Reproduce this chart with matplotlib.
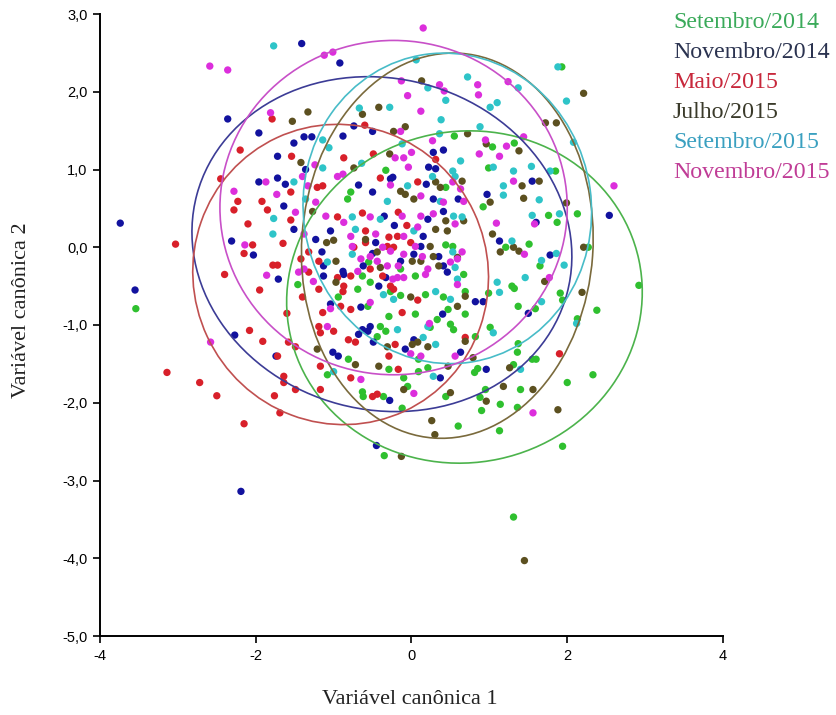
import matplotlib
matplotlib.use("Agg")
import matplotlib.pyplot as plt
from matplotlib.patches import Ellipse
import numpy as np

# ---------------- data ----------------
groups = ["Setembro/2014", "Novembro/2014", "Maio/2015", "Julho/2015", "Setembro/2015", "Novembro/2015"]

set14 = [(2.92,-0.49),(1.93,2.32),(1.31,-3.47),(1.94,-2.56),(2.33,-1.64),(2.0,-1.74),(1.36,-2.06),(1.13,-2.36),
         (-0.35,-2.68),(-0.12,-2.07),(-3.54,-0.79),(1.04,1.29),(1.32,1.34),(1.85,0.98),(0.99,1.02),(0.92,0.52),
         (0.55,1.43),(-0.33,0.99),(2.38,-0.81),(2.13,-0.92),(0.95,-1.83),(0.85,-1.56),(0.81,-1.61),(1.55,-1.44),
         (1.6,-1.44),(1.31,-1.51),(1.36,-1.35),(1.37,-1.24),(1.01,-1.03),(0.82,-1.15),(1.59,-0.79),(1.37,-0.76),
         (1.91,-0.59),(1.94,-0.68),(1.29,-0.5),(1.32,-0.53),(0.99,-0.59),(1.65,-0.24),(1.51,0.04),(2.27,0.0),
         (1.21,0.0),(1.76,0.41),(1.87,0.32),(2.13,0.43),(-0.55,-0.19),(-0.14,-0.28),(-0.63,-0.37),(0.05,-0.37),
         (0.67,-0.35),(-1.46,-0.48),(-0.69,-0.54),(-0.53,-0.45),(-0.27,-0.57),(-0.14,-0.62),(0.18,-0.61),
         (0.41,-0.64),(0.69,-0.57),(-0.94,-0.64),(-0.56,-0.76),(0.05,-0.86),(0.47,-0.8),(-0.29,-0.89),(0.69,-0.86),
         (0.24,-1.03),(0.33,-0.93),(0.5,-0.99),(0.54,-1.06),(-0.4,-1.02),(-0.33,-1.08),(-0.44,-1.15),(-0.81,-1.44),
         (0.09,-1.44),(-1.08,-1.64),(-0.29,-1.57),(-0.1,-1.68),(0.09,-1.6),(0.21,-1.55),(-0.63,-1.86),(-0.62,-1.92),
         (-0.36,-1.92),(-0.05,-1.79),(0.44,-1.92),(0.44,0.77),(-0.78,0.71),(-0.82,0.62),(0.44,0.03),(0.53,0.01),
         (0.88,-1.93),(1.14,-2.02),(1.4,-1.83),(0.6,-2.3),(0.9,-2.1)]

nov14 = [(-3.74,0.31),(-3.55,-0.55),(-2.27,-1.13),(-2.19,-3.14),(-0.45,-2.55),(-0.28,-1.97),(-2.31,0.08),
         (-2.03,-0.1),(-1.71,-0.41),(-1.74,-1.4),(-2.36,1.65),(-1.96,1.47),(-1.72,1.17),(-1.72,0.89),(-1.96,0.84),
         (-1.41,2.62),(-0.92,2.37),(-0.74,1.56),(-0.5,1.49),(-1.38,1.42),(-1.28,1.42),(-0.88,1.43),(-1.51,1.34),
         (0.28,1.22),(0.41,1.25),(-1.36,1.0),(0.22,1.03),(-0.24,0.9),(1.55,0.85),(0.97,0.68),(2.54,0.41),
         (0.96,-1.57),(1.5,-0.85),(0.82,-0.7),(0.92,-0.7),(1.78,-0.1),(1.13,0.08),(1.6,0.32),(-0.35,0.4),
         (0.21,0.36),(0.41,0.46),(-1.51,0.23),(-1.04,0.21),(-0.22,0.28),(0.15,0.14),(-1.23,0.1),(-0.46,0.06),
         (0.12,0.01),(-1.15,-0.06),(-0.5,-0.08),(0.03,-0.09),(0.35,-0.12),(-1.13,-0.24),(-0.88,-0.31),(-0.62,-0.24),
         (-0.14,-0.18),(0.41,-0.24),(-1.13,-0.37),(-0.87,-0.35),(-0.33,-0.39),(0.46,-0.32),(-0.42,-0.5),(-1.04,-0.73),
         (-0.65,-0.77),(0.4,-0.86),(-0.63,-1.06),(-0.53,-1.02),(-0.56,-1.08),(-0.68,-1.12),(-0.49,-1.22),(0.03,-1.19),
         (-0.08,-1.31),(-1.01,-1.35),(-0.94,-1.4),(0.63,-1.35),(0.37,-1.68),(-1.62,0.81),(-0.68,0.8),(-0.27,0.88),
         (0.19,0.81),(0.31,1.01),(-0.5,0.71),(0.28,0.62),(0.6,0.62),(-1.64,0.53)]

mai15 = [(-2.15,-2.27),(-1.69,-2.13),(-3.03,0.04),(-2.08,-1.07),(-1.91,-1.21),(-3.14,-1.61),(-2.72,-1.74),
         (-2.5,-1.91),(-1.76,-1.91),(-2.04,0.03),(-2.15,-0.08),(-1.78,-0.23),(-1.72,-0.23),(-1.72,-1.4),(-2.28,0.48),
         (-1.85,0.48),(-1.79,1.65),(-2.23,0.59),(-1.92,0.59),(-0.6,1.57),(-1.54,1.17),(-0.87,1.15),(-0.49,1.2),
         (0.31,1.13),(-0.4,0.89),(1.9,-1.37),(-0.95,0.39),(-0.63,0.44),(-0.17,0.45),(-0.59,0.21),(-0.06,0.28),
         (-0.29,0.13),(-0.18,0.14),(-0.74,0.0),(-0.59,0.06),(-0.31,0.01),(-0.23,0.0),(-0.01,0.06),(-1.32,-0.06),
         (-1.42,-0.15),(-1.19,-0.18),(-0.53,-0.28),(-1.32,-0.32),(-0.95,-0.39),(-0.78,-0.37),(-0.37,-0.37),
         (-1.19,-0.54),(-0.87,-0.5),(-0.88,-0.57),(-0.23,-0.54),(-0.27,-0.5),(0.08,-0.68),(-1.4,-0.64),(-0.91,-0.76),
         (-0.78,-0.8),(-1.14,-0.84),(-0.12,-0.84),(-1.19,-1.02),(-1.17,-1.1),(-1.0,-1.08),(-1.58,-1.22),(-1.49,-1.28),
         (-0.81,-1.19),(-0.72,-1.22),(-0.21,-1.25),(0.69,-1.16),(-0.29,-1.4),(-1.64,-1.66),(-1.17,-1.53),(-0.78,-1.68),
         (-0.17,-1.57),(-1.64,-1.74),(-1.49,-1.83),(-1.17,-1.83),(-0.5,-1.92),(-0.44,-1.89),(-1.21,0.77),(-1.14,0.79),
         (0.08,0.84),(-1.55,0.71),(-2.45,0.88),(-2.1,0.3),(-1.65,0.05),(-1.95,-0.55),(-2.4,-0.35),(-1.6,-0.85),
         (-2.2,1.25),(-1.55,0.35)]

jul15 = [(1.45,-4.03),(1.88,-2.09),(-0.13,-2.69),(0.26,-2.23),(0.3,-2.41),(0.13,2.14),(-1.53,1.62),(-1.33,1.74),
         (-0.63,1.71),(-0.42,1.8),(-0.08,1.55),(-0.23,1.49),(0.72,1.46),(-0.28,1.2),(-1.42,1.09),(-0.74,1.02),
         (2.21,1.98),(1.72,1.6),(1.86,1.6),(0.96,1.33),(1.38,1.24),(1.64,0.85),(1.42,0.79),(1.99,0.57),(1.44,0.63),
         (1.01,0.58),(2.19,-0.58),(1.56,-1.83),(1.18,-1.79),(1.26,-1.55),(0.79,-1.42),(1.71,-0.44),(2.21,0.0),
         (1.14,-0.06),(1.31,0.0),(1.38,-0.05),(1.04,0.17),(-1.27,0.46),(0.44,0.34),(0.31,0.23),(0.46,0.21),(0.67,0.34),
         (-0.59,0.1),(-1.09,0.06),(-1.0,0.09),(0.24,0.01),(-0.44,-0.06),(0.28,-0.12),(0.59,-0.13),(-0.97,-0.18),
         (-0.4,-0.26),(0.01,-0.18),(0.12,-0.18),(0.35,-0.24),(-0.97,-0.45),(-0.01,-0.64),(0.69,-0.63),(0.59,-0.76),
         (-0.31,-1.28),(0.01,-1.25),(0.08,-1.22),(0.21,-1.28),(0.69,-1.21),(-1.21,-1.31),(-0.72,-1.51),(-0.42,-1.53),
         (0.47,-1.53),(-0.1,-1.83),(0.5,-1.87),(0.31,0.84),(0.37,0.77),(0.65,0.85),(-0.14,0.72),(-0.08,0.68),
         (0.03,0.62),(0.96,-1.98)]

set15 = [(1.88,2.32),(-1.77,2.59),(0.06,2.41),(0.21,2.05),(0.44,1.89),(0.72,2.19),(-0.67,1.79),(-0.28,1.8),
         (0.38,1.64),(0.36,1.46),(-1.14,1.38),(-0.12,1.33),(-1.06,1.28),(0.63,1.11),(-1.14,1.02),(-0.64,1.08),
         (0.53,0.98),(1.99,1.88),(1.37,2.05),(1.01,1.8),(1.1,1.86),(0.88,1.55),(2.08,1.35),(1.54,1.04),(1.78,0.98),
         (1.05,1.03),(1.31,0.98),(1.18,0.79),(1.64,0.61),(1.18,0.67),(2.12,-0.98),(1.4,-1.57),(1.05,-1.1),(1.67,-0.7),
         (1.46,-0.39),(1.1,-0.45),(1.13,-0.58),(1.67,-0.17),(1.86,-0.08),(1.96,-0.23),(1.29,0.08),(1.55,0.41),
         (1.9,0.43),(-1.78,0.17),(-1.77,0.37),(-0.76,0.39),(-0.4,0.36),(0.54,0.4),(0.65,0.39),(-0.72,0.23),(0.03,0.21),
         (-0.76,-0.09),(0.53,-0.06),(-1.08,-0.19),(0.56,-0.26),(-0.36,-0.61),(0.31,-0.57),(0.5,-0.67),(0.59,-0.41),
         (-0.23,-0.67),(0.21,-1.02),(-0.18,-1.06),(0.15,-1.16),(0.31,-1.25),(-1.0,-1.6),(0.28,-1.66),(-0.05,0.79),
         (0.27,0.91),(0.56,0.91),(-1.36,0.62),(-0.31,0.59),(0.37,0.59),(-1.51,0.84)]

nov15 = [(0.15,2.82),(-1.12,2.47),(-1.01,2.51),(-2.59,2.33),(-2.36,2.28),(-1.81,1.73),(-1.87,0.84),(-2.28,0.72),
         (-1.73,0.68),(-2.58,-1.22),(-2.14,0.03),(-1.86,-0.36),(-0.13,2.14),(0.36,2.09),(0.42,2.01),(-0.05,1.95),
         (0.12,1.75),(-0.14,1.49),(0.27,1.37),(-0.21,1.15),(-0.1,1.15),(0.0,1.22),(-1.24,1.06),(-0.04,1.03),
         (-0.95,0.91),(-0.88,0.94),(1.24,2.13),(0.85,2.09),(0.86,1.96),(1.44,1.42),(0.95,1.38),(1.22,1.3),(0.87,1.2),
         (1.13,1.17),(1.31,0.85),(2.6,0.79),(1.77,-0.39),(1.45,-0.09),(1.58,0.3),(1.09,0.31),(1.56,-2.13),
         (-1.49,0.45),(-1.1,0.4),(-0.87,0.32),(-0.53,0.39),(-0.12,0.4),(0.12,0.4),(0.28,0.43),(-1.38,0.17),(-0.78,0.14),
         (-0.46,0.17),(0.08,0.26),(-0.1,0.14),(0.56,0.3),(-0.76,0.01),(-0.37,0.0),(0.05,0.01),(0.65,-0.06),(-0.53,-0.12),
         (-0.27,-0.05),(-0.1,-0.09),(0.14,-0.12),(-1.38,-0.28),(-0.65,-0.15),(-0.44,-0.18),(-0.31,-0.24),(-0.17,-0.24),
         (0.21,-0.28),(0.5,-0.19),(0.59,-0.15),(-1.45,-0.32),(-1.26,-0.44),(-0.69,-0.31),(-0.24,-0.41),(-0.18,-0.39),
         (-0.1,-0.39),(0.18,-0.35),(0.59,-0.48),(-0.53,-0.71),(-1.04,-0.79),(-1.08,-1.02),(0.23,-0.98),(-0.01,-1.37),
         (0.12,-1.4),(0.56,-1.4),(-0.65,-1.7),(0.03,-1.88),(-1.33,0.79),(-0.27,0.8),(0.53,0.84),(-1.23,0.58),(0.12,0.66),
         (0.41,0.58),(0.67,0.59),(0.63,0.75),(-1.4,0.91)]

points = [set14, nov14, mai15, jul15, set15, nov15]

# confidence ellipses: centre x, centre y, width, height, angle (deg)
ell_cx = [0.68, -0.38, -0.91, 0.46, 0.46, -0.23]
ell_cy = [-0.64, 0.04, -0.35, 0.02, 0.50, 0.51]
ell_w = [4.58, 4.92, 3.78, 3.74, 3.70, 4.46]
ell_h = [4.26, 4.26, 3.88, 4.96, 4.00, 4.30]
ell_ang = [12, -15, 25, -4, 8, 0]

x_ticks = [-4, -2, 0, 2, 4]
x_ticklabels = ["-4", "-2", "0", "2", "4"]
y_ticks = [3, 2, 1, 0, -1, -2, -3, -4, -5]
y_ticklabels = ["3,0", "2,0", "1,0", "0,0", "-1,0", "-2,0", "-3,0", "-4,0", "-5,0"]

# ---------------- style ----------------
dot_colors = ["#2fc02f", "#12129e", "#d8202a", "#5c5020", "#2ec4c8", "#dc2edc"]
ell_colors = ["#4cb34c", "#3c3c96", "#c05050", "#7a6a3c", "#48bcc8", "#c850c8"]
leg_colors = ["#3aaa5a", "#2b3350", "#c8283c", "#3a3a2a", "#3aa0c0", "#c03c96"]

fig = plt.figure(figsize=(8.37, 7.15), dpi=100)
ax = fig.add_axes([100/837, 1-636/715, 623/837, 622/715])

for pts, col in zip(points, dot_colors):
    arr = np.array(pts)
    ax.scatter(arr[:, 0], arr[:, 1], s=28, color=col, edgecolors="none", zorder=2)

for i in range(len(groups)):
    e = Ellipse((ell_cx[i], ell_cy[i]), ell_w[i], ell_h[i], angle=ell_ang[i],
                fill=False, edgecolor=ell_colors[i], linewidth=1.2, zorder=3)
    ax.add_patch(e)

ax.set_xlim(-4, 4)
ax.set_ylim(-5, 3)
ax.set_xticks(x_ticks)
ax.set_xticklabels(x_ticklabels)
ax.set_yticks(y_ticks)
ax.set_yticklabels(y_ticklabels)
for s in ["top", "right"]:
    ax.spines[s].set_visible(False)
for s in ["left", "bottom"]:
    ax.spines[s].set_linewidth(1.4)
ax.tick_params(direction="out", length=5, width=1.2, labelsize=10.5, pad=4)
for lab in ax.get_xticklabels() + ax.get_yticklabels():
    lab.set_family(["Liberation Sans Narrow", "Liberation Sans"])

serif = ["Liberation Serif", "DejaVu Serif"]
fig.text(410/837, 1-700/715, "Variável canônica 1", family=serif, fontsize=16,
         ha="center", va="center", color="#222222")
fig.text(22/837, 1-310/715, "Variável canônica 2", family=serif, fontsize=16,
         ha="center", va="center", rotation=90, color="#222222")

for i, (g, c) in enumerate(zip(groups, leg_colors)):
    fig.text(673/837, 1-(23 + 30*i)/715, g, family=serif, fontsize=17.2,
             ha="left", va="center", color=c)

fig.savefig("out.png", dpi=100)
